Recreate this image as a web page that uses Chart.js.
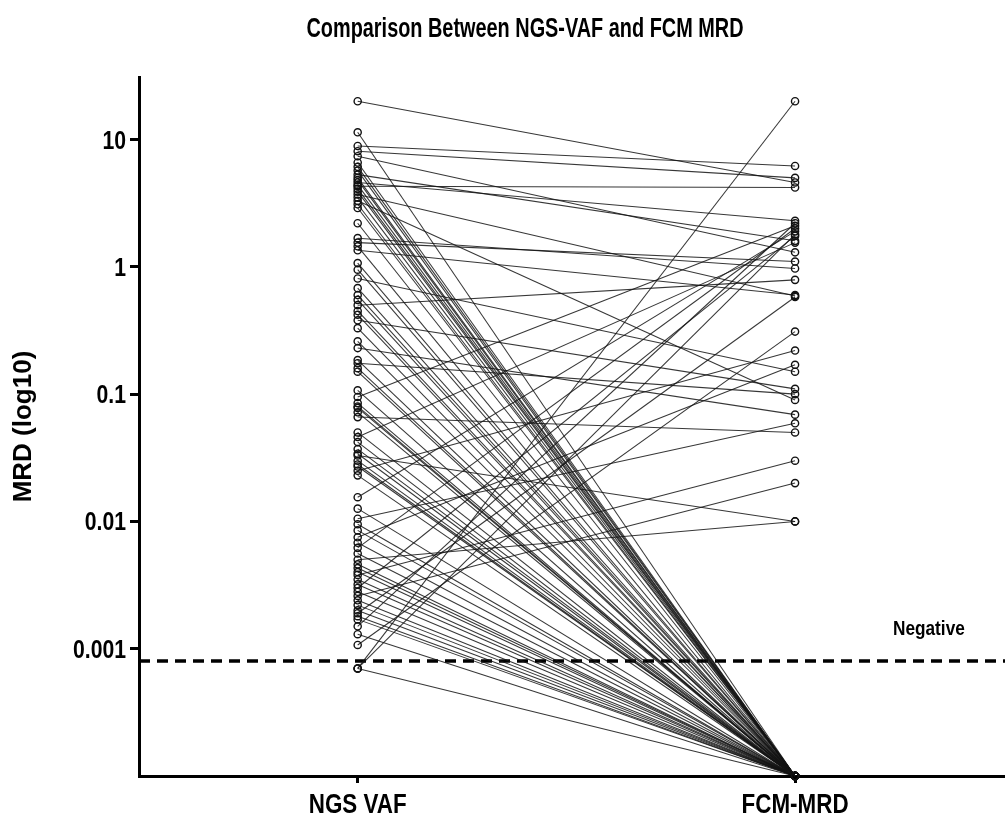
<!DOCTYPE html>
<html lang="en">
<head>
<meta charset="UTF-8">
<title>Comparison Between NGS-VAF and FCM MRD</title>
<script src="https://cdn.jsdelivr.net/npm/chart.js@4.4.1/dist/chart.umd.min.js"></script>
<style>
    body { margin: 0; background: #fff; overflow: hidden; }
    #grafico { display: block; }
</style>
</head>
<body>

<canvas id="grafico" width="1005" height="818"></canvas>

<script>
    // dati: coppie paziente NGS VAF -> FCM MRD
    const categorie = ['NGS VAF', 'FCM-MRD'];
    const NEG = 0.0001;            // FCM negativo, messo sul fondo dell'asse
    const sogliaNegativo = 0.0008; // linea tratteggiata "Negative"
    const yTicks = [0.001, 0.01, 0.1, 1, 10];

    const ngsVaf = [
        20, 11.4, 8.9, 8.1, 7.4, 6.6, 6.1, 5.7, 5.3, 5.0,
        4.8, 4.6, 4.4, 4.3, 4.1, 3.9, 3.7, 3.5, 3.3, 3.1,
        2.9, 2.2, 1.68, 1.55, 1.45, 1.35, 1.07, 0.95, 0.81, 0.68,
        0.6, 0.55, 0.5, 0.45, 0.42, 0.38, 0.33, 0.26, 0.23, 0.185,
        0.175, 0.16, 0.15, 0.107, 0.095, 0.085, 0.08, 0.078, 0.072, 0.066,
        0.05, 0.046, 0.042, 0.037, 0.034, 0.033, 0.03, 0.028, 0.027, 0.025,
        0.023, 0.0155, 0.0126, 0.0105, 0.0095, 0.0085, 0.0075, 0.0068, 0.0062, 0.0056,
        0.005, 0.0046, 0.0043, 0.004, 0.0038, 0.0035, 0.0032, 0.003, 0.0028, 0.0026,
        0.0024, 0.0022, 0.002, 0.0019, 0.0018, 0.0017, 0.0015, 0.0013, 0.00107, 0.0007,
        0.0007, 0.0007
    ];
    const fcmMrd = [
        4.6, NEG, 6.2, 5.0, 1.3, NEG, NEG, NEG, 1.6, NEG,
        NEG, 2.3, NEG, 4.2, NEG, NEG, 0.59, NEG, 0.09, NEG,
        NEG, NEG, 0.97, 1.1, NEG, 0.6, NEG, NEG, 0.15, NEG,
        NEG, NEG, 0.79, NEG, NEG, 0.11, NEG, NEG, 0.069, NEG,
        0.1, NEG, NEG, NEG, 2.1, NEG, NEG, NEG, NEG, 0.05,
        NEG, 1.55, NEG, NEG, NEG, 0.01, NEG, NEG, NEG, 0.22,
        NEG, 1.9, NEG, 0.059, NEG, NEG, 0.17, NEG, 2.0, NEG,
        0.01, NEG, NEG, NEG, 0.03, NEG, NEG, 1.75, NEG, 0.02,
        NEG, NEG, NEG, 0.58, NEG, NEG, 2.2, NEG, 0.31, 20,
        NEG, 1.8
    ];

    const fontBold = "'Liberation Sans', Arial, sans-serif";

    // il font originale e' stretto (tipo Arial Narrow): lo schiaccio in orizzontale
    function testoStretto(ctx, testo, x, y, size, sx, align, baseline) {
        ctx.save();
        ctx.translate(x, y);
        ctx.scale(sx, 1);
        ctx.font = 'bold ' + size + 'px ' + fontBold;
        ctx.fillStyle = '#000';
        ctx.textAlign = align;
        ctx.textBaseline = baseline;
        ctx.fillText(testo, 0, 0);
        ctx.restore();
    }

    // una linea per ogni paziente
    let datasets = [];
    for (let i = 0; i < ngsVaf.length; i++) {
        datasets.push({
            data: [{ x: 0, y: ngsVaf[i] }, { x: 1, y: fcmMrd[i] }],
            showLine: true,
            borderColor: 'rgba(20,20,20,0.85)',
            borderWidth: 1.05,
            pointRadius: 3.6,
            pointBorderWidth: 1.4,
            pointBorderColor: '#111',
            pointBackgroundColor: 'rgba(255,255,255,0)',
            clip: false
        });
    }
    // soglia di negativita'
    datasets.push({
        data: [{ x: -0.5, y: sogliaNegativo }, { x: 1.48, y: sogliaNegativo }],
        showLine: true,
        borderColor: '#000',
        borderWidth: 3.5,
        borderDash: [11, 7],
        pointRadius: 0
    });

    const testiExtra = {
        id: 'testiExtra',
        afterDraw(chart) {
            const ctx = chart.ctx;
            const xs = chart.scales.x, ys = chart.scales.y;

            testoStretto(ctx, 'Comparison Between NGS-VAF and FCM MRD', 525, 37, 28, 0.71, 'center', 'alphabetic');
            testoStretto(ctx, 'Negative', xs.getPixelForValue(1.306), ys.getPixelForValue(sogliaNegativo) - 26, 21, 0.82, 'center', 'alphabetic');

            // etichette dei tick
            yTicks.forEach(v => {
                testoStretto(ctx, String(v), ys.right - 13, ys.getPixelForValue(v) + 9, 26, 0.815, 'right', 'alphabetic');
            });
            categorie.forEach((c, i) => {
                testoStretto(ctx, c, xs.getPixelForValue(i), xs.top + 37, 28, 0.8, 'center', 'alphabetic');
            });
        }
    };

    const ctx = document.getElementById('grafico').getContext('2d');
    const grafico = new Chart(ctx, {
        type: 'scatter',
        data: { datasets: datasets },
        options: {
            responsive: false,
            animation: false,
            layout: { autoPadding: false, padding: { top: 77, left: 0, right: 0, bottom: 0 } },
            plugins: {
                legend: { display: false },
                tooltip: { enabled: false }
            },
            scales: {
                x: {
                    type: 'linear',
                    min: -0.5,
                    max: 1.48,
                    afterBuildTicks: s => { s.ticks = [{ value: 0 }, { value: 1 }]; },
                    afterFit: s => { s.height = 42; },
                    border: { display: true, color: '#000', width: 3 },
                    grid: { drawOnChartArea: false, tickLength: 7, tickWidth: 3, tickColor: '#000' },
                    ticks: { display: false }
                },
                y: {
                    type: 'logarithmic',
                    min: NEG,
                    max: 31,
                    afterBuildTicks: s => { s.ticks = yTicks.map(v => ({ value: v })); },
                    afterFit: s => { s.width = 139; },
                    border: { display: true, color: '#000', width: 3 },
                    grid: { drawOnChartArea: false, tickLength: 9, tickWidth: 3, tickColor: '#000' },
                    ticks: { display: false },
                    title: {
                        display: true,
                        text: 'MRD (log10)',
                        color: '#000',
                        font: { family: fontBold, weight: 'bold', size: 26 },
                        padding: { top: 8, bottom: 0 }
                    }
                }
            }
        },
        plugins: [testiExtra]
    });
</script>

</body>
</html>
